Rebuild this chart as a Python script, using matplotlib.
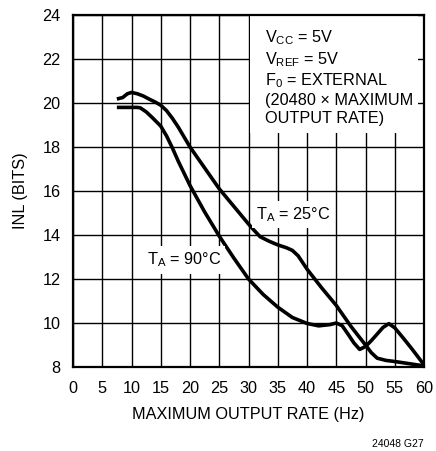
import matplotlib
matplotlib.use("Agg")
import matplotlib.pyplot as plt
from matplotlib.patches import Rectangle

# ---- data ----
x_25c = [7.5, 8.5, 9.3, 10, 11, 12, 13, 14, 15, 16, 17, 18, 20, 22.5, 25, 27.5,
         30, 31, 32, 33.5, 35, 36.5, 37.5, 38.5, 40, 42.5, 45, 47.5, 50, 51, 52,
         53.5, 55, 57.5, 60]
inl_25c = [20.18, 20.25, 20.42, 20.48, 20.42, 20.32, 20.18, 20.05, 19.9, 19.65,
           19.3, 18.9, 18.0, 17.05, 16.1, 15.3, 14.5, 14.2, 13.92, 13.72, 13.55,
           13.42, 13.3, 13.05, 12.45, 11.6, 10.8, 9.85, 9.0, 8.65, 8.4, 8.3,
           8.25, 8.15, 8.05]

x_90c = [7.5, 9, 10, 11, 11.5, 12.5, 13.5, 15, 16, 17, 18, 19, 20, 22.5, 25,
         27.5, 30, 32.5, 35, 37.5, 40, 42, 44, 45, 46, 47, 48, 49, 50, 51, 52,
         53, 54, 55, 56.5, 58, 60]
inl_90c = [19.8, 19.8, 19.8, 19.8, 19.78, 19.6, 19.35, 18.95, 18.5, 17.95,
           17.35, 16.8, 16.25, 15.05, 13.95, 12.95, 12.0, 11.3, 10.72, 10.25,
           9.98, 9.87, 9.93, 10.0, 9.88, 9.5, 9.1, 8.8, 8.93, 9.2, 9.5, 9.8,
           9.97, 9.78, 9.3, 8.8, 8.1]

x_ticks = [0, 5, 10, 15, 20, 25, 30, 35, 40, 45, 50, 55, 60]
y_ticks = [8, 10, 12, 14, 16, 18, 20, 22, 24]

FONT = ["Liberation Sans", "DejaVu Sans"]
plt.rcParams["font.family"] = FONT
plt.rcParams["mathtext.fontset"] = "custom"
plt.rcParams["mathtext.rm"] = "Liberation Sans"
plt.rcParams["mathtext.it"] = "Liberation Sans"
plt.rcParams["mathtext.bf"] = "Liberation Sans"

FS = 11.7

fig = plt.figure(figsize=(4.36, 4.51), dpi=100)
ax = fig.add_axes([73 / 436, 84 / 451, 351 / 436, 352 / 451])

ax.set_xlim(0, 60)
ax.set_ylim(8, 24)
ax.set_xticks(x_ticks)
ax.set_yticks(y_ticks)
ax.grid(True, color="black", lw=1.0, zorder=1)
ax.set_axisbelow(True)
ax.tick_params(length=0, labelsize=FS)
ax.tick_params(axis="x", pad=10)
ax.tick_params(axis="y", pad=9)
for s in ax.spines.values():
    s.set_linewidth(1.6)
    s.set_zorder(5)

ax.plot(x_25c, inl_25c, color="black", lw=2.6, zorder=4, solid_capstyle="butt")
ax.plot(x_90c, inl_90c, color="black", lw=2.6, zorder=4, solid_capstyle="butt")

# white area behind the conditions block
ax.add_patch(Rectangle((30.3, 18.64), 28.7, 24 - 18.64, facecolor="white",
                       edgecolor="none", zorder=2))
cond = ["V$_{\\mathrm{CC}}$ = 5V", "V$_{\\mathrm{REF}}$ = 5V",
        "F$_{\\mathrm{0}}$ = EXTERNAL", "(20480 \u00d7 MAXIMUM", "OUTPUT RATE)"]
ax.text(32.8, 23.4, "\n".join(cond), fontsize=FS, ha="left", va="top",
        linespacing=1.22, zorder=6)

ax.text(31.3, 14.72, "T$_{\\mathrm{A}}$ = 25\u00b0C", fontsize=FS, ha="left",
        va="baseline", zorder=6,
        bbox=dict(facecolor="white", edgecolor="none", pad=3))
ax.text(12.6, 12.65, "T$_{\\mathrm{A}}$ = 90\u00b0C", fontsize=FS, ha="left",
        va="baseline", zorder=6,
        bbox=dict(facecolor="white", edgecolor="none", pad=3))

ax.set_xlabel("MAXIMUM OUTPUT RATE (Hz)", fontsize=FS, labelpad=8)
ax.set_ylabel("INL (BITS)", fontsize=FS, labelpad=10)

fig.text(424 / 436, 2 / 451, "24048 G27", fontsize=7.5, ha="right",
         va="bottom")

fig.savefig("out.png", dpi=100)
